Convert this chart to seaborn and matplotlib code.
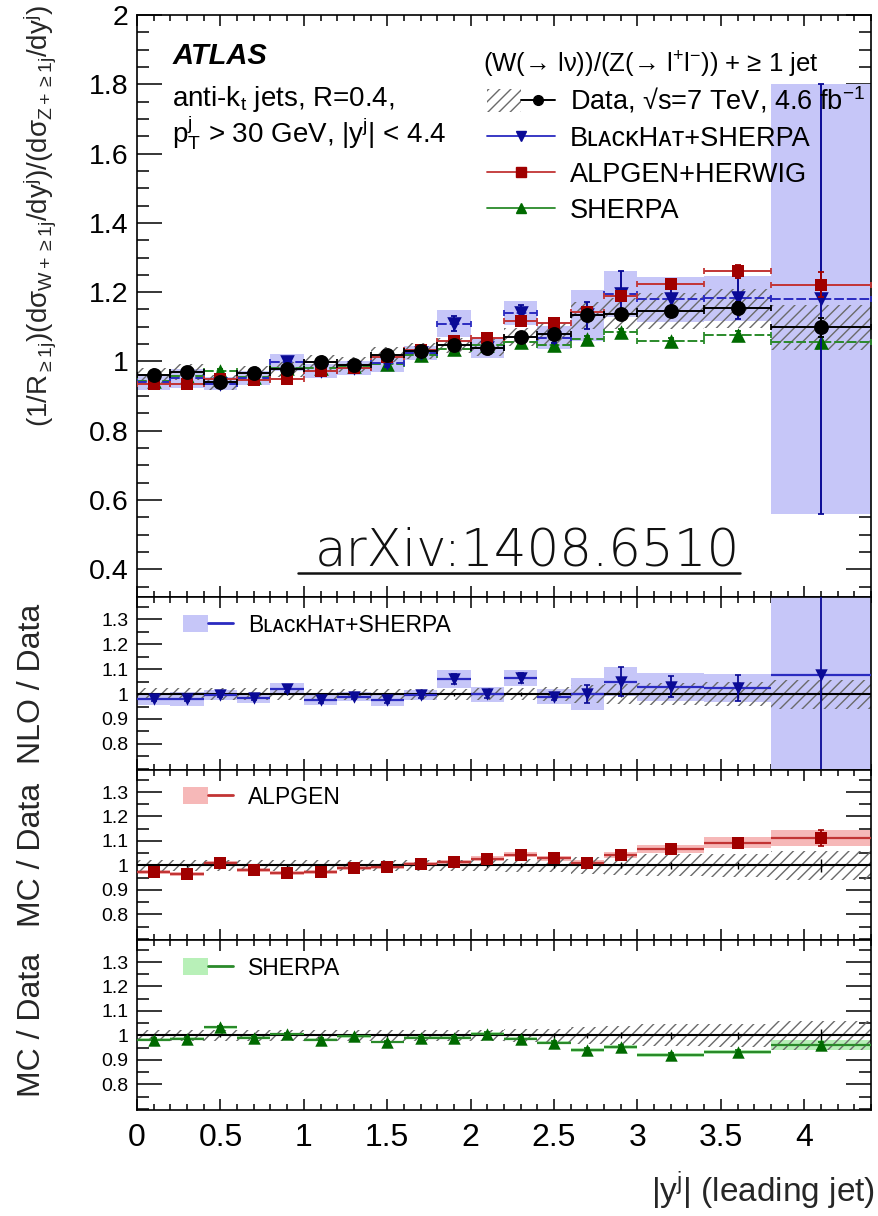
import numpy as np
import matplotlib
matplotlib.use("Agg")
import matplotlib.pyplot as plt
import seaborn as sns
from matplotlib.patches import Patch
from matplotlib.lines import Line2D
from matplotlib.ticker import MultipleLocator, FixedLocator, FuncFormatter
from matplotlib.legend_handler import HandlerTuple

# ---------------------------------------------------------------- data
# leading-jet rapidity bins
bin_low = [0.0, 0.2, 0.4, 0.6, 0.8, 1.0, 1.2, 1.4, 1.6, 1.8, 2.0, 2.2, 2.4, 2.6, 2.8, 3.0, 3.4, 3.8]
bin_high = [0.2, 0.4, 0.6, 0.8, 1.0, 1.2, 1.4, 1.6, 1.8, 2.0, 2.2, 2.4, 2.6, 2.8, 3.0, 3.4, 3.8, 4.4]

# measured W/Z ratio (normalised) with relative stat and syst uncertainties
data_val = [0.960, 0.970, 0.940, 0.966, 0.977, 0.998, 0.991, 1.020, 1.030, 1.046, 1.040, 1.070, 1.080, 1.133, 1.138, 1.146, 1.153, 1.098]
data_stat = [0.005, 0.005, 0.005, 0.005, 0.005, 0.005, 0.005, 0.005, 0.005, 0.006, 0.007, 0.008, 0.009, 0.010, 0.012, 0.013, 0.015, 0.025]
data_syst = [0.023, 0.023, 0.023, 0.023, 0.022, 0.022, 0.022, 0.022, 0.022, 0.022, 0.023, 0.025, 0.028, 0.035, 0.040, 0.045, 0.048, 0.058]

# BlackHat+Sherpa (NLO)
bh_main = [0.941, 0.951, 0.935, 0.952, 0.997, 0.973, 0.981, 0.995, 1.025, 1.109, 1.040, 1.140, 1.069, 1.133, 1.195, 1.180, 1.182, 1.180]
bh_ratio = [0.980, 0.980, 0.995, 0.985, 1.020, 0.975, 0.990, 0.975, 0.995, 1.060, 1.000, 1.065, 0.990, 1.000, 1.050, 1.030, 1.025, 1.075]
bh_theory = [0.025, 0.028, 0.020, 0.020, 0.025, 0.020, 0.020, 0.025, 0.020, 0.035, 0.030, 0.030, 0.030, 0.065, 0.055, 0.055, 0.055, 0.525]
bh_stat = [0.010, 0.010, 0.008, 0.008, 0.012, 0.010, 0.010, 0.010, 0.012, 0.020, 0.015, 0.020, 0.015, 0.035, 0.055, 0.040, 0.050, 0.525]

# Alpgen+Herwig
alp_main = [0.934, 0.936, 0.949, 0.947, 0.948, 0.971, 0.981, 1.013, 1.034, 1.060, 1.068, 1.117, 1.112, 1.144, 1.188, 1.223, 1.260, 1.222]
alp_ratio = [0.973, 0.965, 1.010, 0.980, 0.970, 0.973, 0.990, 0.993, 1.004, 1.013, 1.027, 1.044, 1.030, 1.010, 1.044, 1.067, 1.093, 1.113]
alp_band = [0.008, 0.008, 0.008, 0.008, 0.008, 0.008, 0.008, 0.008, 0.008, 0.010, 0.010, 0.010, 0.010, 0.012, 0.012, 0.015, 0.020, 0.030]
alp_stat = [0.008, 0.008, 0.008, 0.008, 0.008, 0.008, 0.008, 0.008, 0.008, 0.008, 0.008, 0.008, 0.008, 0.010, 0.010, 0.012, 0.015, 0.030]

# Sherpa
sh_main = [0.944, 0.957, 0.971, 0.956, 0.981, 0.981, 0.987, 0.992, 1.020, 1.036, 1.047, 1.056, 1.048, 1.065, 1.085, 1.058, 1.076, 1.056]
sh_ratio = [0.983, 0.987, 1.033, 0.990, 1.004, 0.983, 0.996, 0.973, 0.990, 0.990, 1.007, 0.987, 0.970, 0.940, 0.953, 0.920, 0.933, 0.960]
sh_band = [0.006, 0.006, 0.006, 0.006, 0.006, 0.006, 0.006, 0.006, 0.006, 0.006, 0.006, 0.006, 0.006, 0.008, 0.008, 0.010, 0.010, 0.020]
sh_stat = [0.006, 0.006, 0.006, 0.006, 0.006, 0.006, 0.006, 0.006, 0.006, 0.006, 0.006, 0.006, 0.006, 0.008, 0.008, 0.010, 0.010, 0.015]

x_ticks = [0, 0.5, 1, 1.5, 2, 2.5, 3, 3.5, 4]
main_yticks = [0.4, 0.6, 0.8, 1.0, 1.2, 1.4, 1.6, 1.8, 2.0]
ratio_yticks = [0.8, 0.9, 1.0, 1.1, 1.2, 1.3]

# ---------------------------------------------------------------- style
sns.set_theme(style="ticks")
plt.rcParams["font.family"] = ["Liberation Sans", "DejaVu Sans"]
plt.rcParams.update({
    "mathtext.fontset": "custom",
    "mathtext.rm": "Liberation Sans",
    "mathtext.it": "Liberation Sans:italic",
    "mathtext.bf": "Liberation Sans:bold",
    "mathtext.sf": "Liberation Sans",
    "hatch.linewidth": 1.0,
    "axes.linewidth": 1.2,
    "axes.edgecolor": "black",
    "xtick.color": "black",
    "ytick.color": "black",
    "text.color": "black",
})

BLUE_M, BLUE_L, BLUE_B = "#0a0a96", "#2a2ac0", "#c6c6f8"
RED_M, RED_L, RED_B = "#a00000", "#c23434", "#f6b8b8"
GRN_M, GRN_L, GRN_B = "#006a00", "#2a8a2a", "#b8f0b8"
HATCH = "#6a6a6a"
HATCH_PAT = "///"

lo = np.array(bin_low)
hi = np.array(bin_high)
xc = (lo + hi) / 2
hw = (hi - lo) / 2
wd = hi - lo

W, H = 879, 1216
fig = plt.figure(figsize=(W / 100, H / 100), dpi=100)
L0, R0 = 137, 871


def panel(top, bottom):
    return fig.add_axes([L0 / W, 1 - bottom / H, (R0 - L0) / W, (bottom - top) / H])


ax0 = panel(15, 597)
ax1 = panel(597, 770)
ax2 = panel(770, 940)
ax3 = panel(940, 1110)
axes = [ax0, ax1, ax2, ax3]

fmt = FuncFormatter(lambda v, p: f"{v:g}")
for ax in axes:
    ax.set_xlim(0, 4.4)
    ax.xaxis.set_major_locator(FixedLocator(x_ticks))
    ax.xaxis.set_minor_locator(MultipleLocator(0.1))
    ax.yaxis.set_minor_locator(MultipleLocator(0.05))
    ax.yaxis.set_major_formatter(fmt)
    ax.xaxis.set_major_formatter(fmt)
    ax.tick_params(which="both", direction="in", top=True, right=True, bottom=True, left=True, width=1.1)
    ax.tick_params(axis="y", which="major", length=18, pad=6)
    ax.tick_params(axis="y", which="minor", length=8.5)
    ax.tick_params(axis="x", which="major", length=8)
    ax.tick_params(axis="x", which="minor", length=4.5)
    for s in ax.spines.values():
        s.set_linewidth(1.2)
        s.set_color("black")
    if ax is not ax3:
        ax.tick_params(axis="x", labelbottom=False)

# ---------------------------------------------------------------- main panel
ax0.set_ylim(0.32, 2.0)
ax0.yaxis.set_major_locator(FixedLocator(main_yticks))
ax0.tick_params(axis="y", labelsize=20.5)

d = np.array(data_val)
bm = np.array(bh_main)
am = np.array(alp_main)
sm = np.array(sh_main)

ax0.bar(xc, 2 * bm * np.array(bh_theory), bottom=bm * (1 - np.array(bh_theory)), width=wd,
        color=BLUE_B, linewidth=0, zorder=1)
ax0.bar(xc, 2 * d * np.array(data_syst), bottom=d * (1 - np.array(data_syst)), width=wd,
        fill=False, hatch=HATCH_PAT, edgecolor=HATCH, linewidth=0, zorder=2)


def main_series(y, stat, lcol, mcol, marker, size, ls, z):
    eb = ax0.errorbar(xc, y, xerr=hw, fmt="none", ecolor=lcol, elinewidth=1.4,
                      capsize=2.5, capthick=1.3, zorder=z)
    eb[2][0].set_linestyle(ls)
    ax0.errorbar(xc, y, yerr=y * np.array(stat), fmt="none", ecolor=mcol, elinewidth=1.4,
                 capsize=2.5, capthick=1.3, zorder=z)
    sns.scatterplot(x=xc, y=y, ax=ax0, marker=marker, s=size, color=mcol, edgecolor=mcol,
                    linewidth=0, zorder=z + 0.5, legend=False)


main_series(sm, sh_stat, GRN_L, GRN_M, "^", 110, (0, (5, 1.5)), 3)
main_series(bm, bh_stat, BLUE_L, BLUE_M, "v", 110, (0, (5, 1.5)), 4)
main_series(am, alp_stat, RED_L, RED_M, "s", 85, "-", 5)
main_series(d, data_stat, "black", "black", "o", 115, "-", 6)

ax0.set_ylabel(r"(1/$\mathregular{R_{\geq 1j}}$)(d$\mathregular{\sigma_{W+\geq 1j}}$/d$\mathregular{y^{j}}$)"
               r"/(d$\mathregular{\sigma_{Z+\geq 1j}}$/d$\mathregular{y^{j}}$)", fontsize=20)
ax0.yaxis.set_label_coords(-0.108, 0.655)

ax0.text(0.048, 0.916, "ATLAS", transform=ax0.transAxes, fontsize=21, fontweight="bold",
         fontstyle="italic", va="baseline")
ax0.text(0.048, 0.843, r"anti-$\mathregular{k_{t}}$ jets, R=0.4,", transform=ax0.transAxes,
         fontsize=20, va="baseline")
ax0.text(0.048, 0.781, r"$\mathregular{p_{T}^{j}}$ > 30 GeV, |$\mathregular{y^{j}}$| < 4.4",
         transform=ax0.transAxes, fontsize=20, va="baseline")

ax0.text((483 - L0) / (R0 - L0), (597 - 72) / 582,
         "(W(\u2192 l\u03bd))/(Z(\u2192 $\\mathregular{l^{+}l^{-}}$)) + \u2265 1 jet",
         transform=ax0.transAxes, fontsize=18.5, va="baseline")

h_data = (Patch(facecolor="none", edgecolor=HATCH, hatch=HATCH_PAT, linewidth=0),
          Line2D([], [], color="black", lw=1.4, marker="o", ms=7))
h_bh = Line2D([], [], color=BLUE_L, lw=1.3, marker="v", ms=7, mfc=BLUE_M, mec=BLUE_M)
h_alp = Line2D([], [], color=RED_L, lw=1.3, marker="s", ms=6.5, mfc=RED_M, mec=RED_M)
h_sh = Line2D([], [], color=GRN_L, lw=1.3, marker="^", ms=7, mfc=GRN_M, mec=GRN_M)
ax0.legend([h_data, h_bh, h_alp, h_sh],
           ["Data, \u221as=7 TeV, 4.6 $\\mathregular{fb^{-1}}$",
            "B\u029f\u1d00\u1d04\u1d0bH\u1d00\u1d1b+SHERPA", "ALPGEN+HERWIG", "SHERPA"],
           handler_map={tuple: HandlerTuple(ndivide=None)},
           loc="upper left", bbox_to_anchor=((487 - L0) / (R0 - L0), (597 - 85) / 582),
           frameon=False, fontsize=19.5, handlelength=2.5, handleheight=0.9,
           handletextpad=0.55, labelspacing=0.35, borderpad=0, borderaxespad=0)

# ---------------------------------------------------------------- ratio panels
syst = np.array(data_syst)


def ratio_panel(ax, ratio, band, stat, bcol, lcol, mcol, marker, label, ylabel, leg_y):
    r = np.array(ratio)
    ax.set_ylim(0.695, 1.39)
    ax.yaxis.set_major_locator(FixedLocator(ratio_yticks))
    ax.tick_params(axis="y", labelsize=14)
    ax.bar(xc, 2 * r * np.array(band), bottom=r * (1 - np.array(band)), width=wd,
           color=bcol, linewidth=0, zorder=1)
    ax.bar(xc, 2 * syst, bottom=1 - syst, width=wd, fill=False, hatch=HATCH_PAT,
           edgecolor=HATCH, linewidth=0, zorder=2)
    ax.axhline(1.0, color="black", lw=1.5, zorder=3)
    ax.errorbar(xc, np.ones_like(xc), yerr=np.array(data_stat), fmt="none", ecolor="black",
                elinewidth=1.0, zorder=3)
    ax.hlines(r, lo, hi, color=lcol, lw=1.6, zorder=4)
    ax.errorbar(xc, r, yerr=r * np.array(stat), fmt="none", ecolor=mcol, elinewidth=1.3,
                capsize=2, capthick=1.2, zorder=4)
    sns.scatterplot(x=xc, y=r, ax=ax, marker=marker, s=80, color=mcol, edgecolor=mcol,
                    linewidth=0, zorder=5, legend=False)
    ax.set_ylabel(ylabel, fontsize=23)
    ax.yaxis.set_label_coords(-0.122, 0.5)
    ax.legend([(Patch(facecolor=bcol, linewidth=0), Line2D([], [], color=lcol, lw=2))], [label],
              handler_map={tuple: HandlerTuple(ndivide=None)}, loc="center left",
              bbox_to_anchor=((183 - L0) / (R0 - L0), leg_y), frameon=False, fontsize=16.5,
              handlelength=2.2, handleheight=0.8, handletextpad=0.65, borderpad=0,
              borderaxespad=0)


ratio_panel(ax1, bh_ratio, bh_theory, bh_stat, BLUE_B, BLUE_L, BLUE_M, "v",
            "B\u029f\u1d00\u1d04\u1d0bH\u1d00\u1d1b+SHERPA", "NLO / Data", 0.838)
ratio_panel(ax2, alp_ratio, alp_band, alp_stat, RED_B, RED_L, RED_M, "s",
            "ALPGEN", "MC / Data", 0.841)
ratio_panel(ax3, sh_ratio, sh_band, sh_stat, GRN_B, GRN_L, GRN_M, "^",
            "SHERPA", "MC / Data", 0.835)

ax3.tick_params(axis="x", labelsize=23, pad=9)
ax3.set_xlabel(r"|$\mathregular{y^{j}}$| (leading jet)", fontsize=24)
ax3.xaxis.set_label_coords(1.006, -0.35)
ax3.xaxis.label.set_ha("right")

# ---------------------------------------------------------------- reference tag
fig.text(315 / W, 1 - 565 / H, "arXiv:1408.6510", fontsize=37, family=["DejaVu Sans"],
         fontweight="light", va="baseline", ha="left", color="#111111")
fig.add_artist(Line2D([298 / W, 740 / W], [1 - 573 / H, 1 - 573 / H], transform=fig.transFigure,
                      color="#111111", lw=1.8))

fig.savefig("out.png", dpi=100)
